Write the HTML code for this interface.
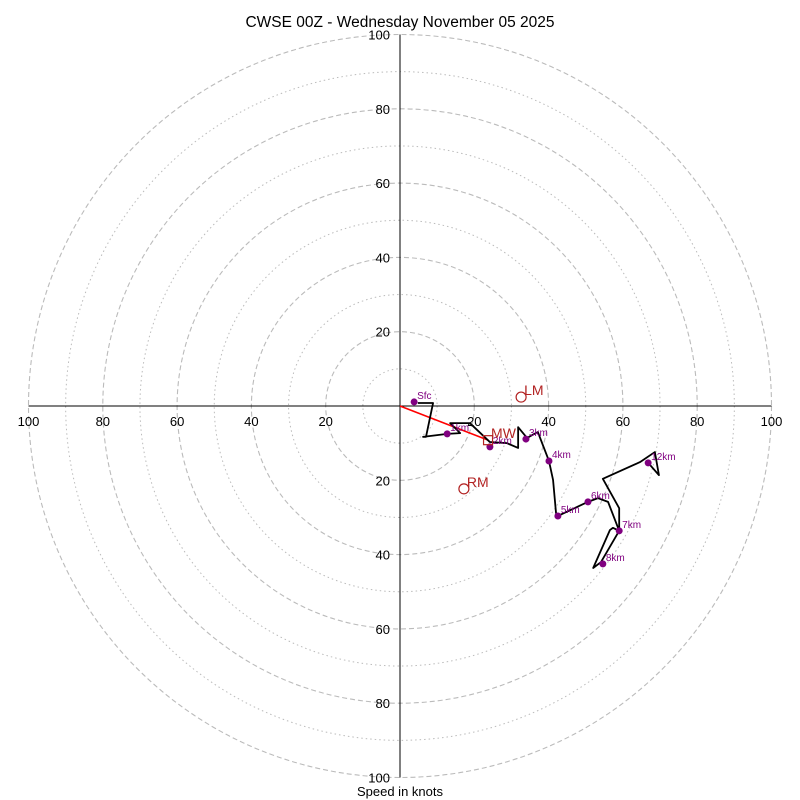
<!DOCTYPE html>
<html><head><meta charset="utf-8"><style>
body{margin:0;background:#fff}
svg{display:block;font-family:"Liberation Sans","DejaVu Sans",sans-serif}
</style></head><body>
<svg id="c" width="800" height="800" viewBox="0 0 800 800">
<text x="400" y="27" text-anchor="middle" font-size="15.5">CWSE 00Z - Wednesday November 05 2025</text>
<text x="400" y="796" text-anchor="middle" font-size="13">Speed in knots</text>
<g id="grid"></g><g id="axes"></g><g id="plot"></g>
</svg>
<script>
const ringValues=[10,20,30,40,50,60,70,80,90,100];
const tickValues=[20,40,60,80,100];
const hodoU=[4.8,8.9,7.0,6.2,12.7,16.2,13.5,18.8,24.2,28.8,31.8,31.8,34.2,37.1,40.1,41.2,42.0,42.5,50.6,53.3,56.0,59.0,54.1,52.0,56.5,57.3,59.0,59.0,54.6,64.6,68.6,69.7,66.8];
const hodoV=[0.8,0.8,-8.3,-8.3,-7.5,-7.3,-4.6,-4.6,-9.7,-10.0,-11.3,-5.7,-8.6,-7.0,-14.8,-19.9,-28.8,-29.6,-25.8,-24.8,-25.8,-33.6,-42.0,-43.6,-33.4,-32.8,-33.6,-27.5,-19.6,-15.1,-12.4,-18.6,-15.3];
const levelLabels=["Sfc","1km","2km","3km","4km","5km","6km","7km","8km","12km"];
const levelU=[3.8,12.7,24.2,33.9,40.1,42.5,50.6,59.0,54.6,66.8];
const levelV=[1.1,-7.5,-11.0,-8.9,-14.8,-29.6,-25.8,-33.6,-42.5,-15.3];
const motionLabels=["LM","RM","MW"];
const motionU=[32.6,17.2,23.7];
const motionV=[2.4,-22.3,-9.2];
const CX=400,CY=406,S=3.715;
const sx=u=>CX+u*S, sy=v=>CY-v*S;
const NS="http://www.w3.org/2000/svg";
function mk(tag,attrs,parent){const e=document.createElementNS(NS,tag);for(const k in attrs)e.setAttribute(k,attrs[k]);document.getElementById(parent).appendChild(e);return e;}
ringValues.forEach(r=>{
  const c=mk('circle',{cx:CX,cy:CY,r:r*S,fill:'none',stroke:'#bbb','stroke-width':r%20===0?1.1:1,'stroke-dasharray':r%20===0?'5,3':'1.5,3'},'grid');
  
  
});
const xa=mk('line',{x1:sx(-100),y1:CY,x2:sx(100),y2:CY,stroke:'#000','stroke-width':1},'axes');


const ya=mk('line',{x1:CX,y1:sy(100),x2:CX,y2:sy(-100),stroke:'#000','stroke-width':1},'axes');


tickValues.forEach(t=>{
  [t,-t].forEach(v=>{
    const a=mk('text',{x:sx(v),y:CY+20,'text-anchor':'middle','font-size':13},'axes');a.textContent=t;
    
    
    const b=mk('text',{x:CX-10,y:sy(v)+5,'text-anchor':'end','font-size':13},'axes');b.textContent=t;
    
    
  });
});
const mw=mk('line',{x1:sx(0),y1:sy(0),x2:sx(motionU[2]),y2:sy(motionV[2]),stroke:'#f00','stroke-width':1.6},'plot');


const pts=hodoU.map((u,i)=>sx(u)+','+sy(hodoV[i])).join(' ');
const hl=mk('polyline',{points:pts,fill:'none',stroke:'#000','stroke-width':1.8,'stroke-linejoin':'round'},'plot');


levelLabels.forEach((l,i)=>{
  const d=mk('circle',{cx:sx(levelU[i]),cy:sy(levelV[i]),r:3.5,fill:'#800080'},'plot');
  
  
  const t=mk('text',{x:sx(levelU[i])+3,y:sy(levelV[i])-3,'font-size':10,fill:'#800080'},'plot');t.textContent=l;
  
  
});
motionLabels.forEach((l,i)=>{
  const x=sx(motionU[i]),y=sy(motionV[i]);
  if(l==='MW'){const r=mk('rect',{x:x-4.5,y:y-4.5,width:9,height:9,fill:'none',stroke:'#b22222','stroke-width':1.2},'plot');
    
    }
  else{const c=mk('circle',{cx:x,cy:y,r:5,fill:'none',stroke:'#b22222','stroke-width':1.2},'plot');
    
    }
  const t=mk('text',{x:x+3,y:y-2,'font-size':14,fill:'#b22222'},'plot');t.textContent=l;
  
  
});
</script>
</body></html>
